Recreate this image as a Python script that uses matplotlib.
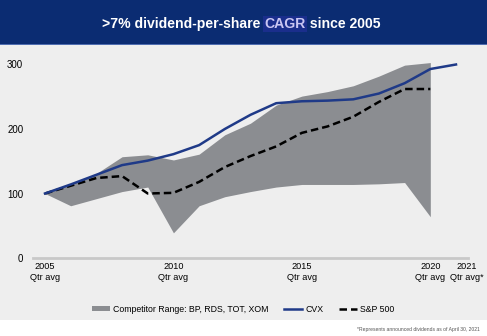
import numpy as np
import matplotlib.pyplot as plt
import matplotlib.transforms as mtransforms
from matplotlib.patches import Rectangle, Patch
from matplotlib.lines import Line2D

plt.rcParams['font.family'] = ['Liberation Sans', 'DejaVu Sans']

years = np.arange(2005, 2022)
cvx = [100, 114, 129, 144, 151, 161, 175, 200, 222, 240, 243, 244, 246, 255, 271, 293, 300]
sp500 = [100, 112, 124, 127, 100, 101, 118, 141, 158, 173, 194, 204, 219, 242, 262, 262]
comp_hi = [100, 115, 131, 157, 160, 152, 161, 191, 209, 237, 251, 258, 267, 282, 299, 303]
comp_lo = [100, 81, 92, 103, 110, 39, 81, 95, 103, 110, 114, 114, 114, 115, 117, 64]
tick_years = [2005, 2010, 2015, 2020, 2021]
tick_labels = ['2005\nQtr avg', '2010\nQtr avg', '2015\nQtr avg', '2020\nQtr avg', '2021\nQtr avg*']

W, H = 487, 336
fig = plt.figure(figsize=(W / 100, H / 100), dpi=100)
fig.patch.set_facecolor('white')

# background panels
fig.add_artist(Rectangle((0, 16 / H), 1, 1 - 16 / H - 44 / H, transform=fig.transFigure,
                         facecolor='#EEEEEE', edgecolor='none', zorder=0))
fig.add_artist(Rectangle((0, 1 - 44 / H), 1, 44 / H, transform=fig.transFigure,
                         facecolor='#0B2C72', edgecolor='none', zorder=0))
fig.add_artist(Rectangle((0, 1 - 45 / H), 1, 1.2 / H, transform=fig.transFigure,
                         facecolor='#4F6DB0', edgecolor='none', zorder=0))

x0 = 2005 - 12 / 25.69
x1 = 2021 + 12 / 25.69
ax = fig.add_axes([33 / W, 1 - 258 / H, 435 / W, (258 - 51.6) / H])
ax.set_facecolor('none')
ax.set_xlim(x0, x1)
ax.set_ylim(0, 320)

# title with highlighted CAGR
t1 = fig.text(102 / W, 1 - 24 / H, '>7% dividend-per-share ', color='white',
              fontsize=10.1, fontweight='bold', va='center', ha='left')
t2 = ax.annotate('CAGR', xy=(1, 0.5), xycoords=t1, va='center', ha='left',
                 color='#C9C6F2', fontsize=10.1, fontweight='bold', annotation_clip=False,
                 bbox=dict(boxstyle='square,pad=0.1', facecolor='#1A2E8C', edgecolor='none'))
ax.annotate(' since 2005', xy=(1, 0.5), xycoords=t2, va='center', ha='left',
            color='white', fontsize=10.1, fontweight='bold', annotation_clip=False)

ax.fill_between(years[:16], comp_lo, comp_hi, color='#8B8D91', linewidth=0, zorder=1)
ax.plot(years, cvx, color='#1F3A88', linewidth=1.8, zorder=3)
ax.plot(years[:16], sp500, color='black', linewidth=1.8, dashes=(3, 1.6), zorder=2)

for s in ['top', 'right', 'left']:
    ax.spines[s].set_visible(False)
ax.spines['bottom'].set_color('#C8C8C8')
ax.spines['bottom'].set_linewidth(2)

ax.set_yticks([0, 100, 200, 300])
ax.set_xticks(tick_years)
ax.set_xticklabels(tick_labels)
ax.tick_params(axis='both', length=0, colors='black')
ax.tick_params(axis='y', pad=7, labelsize=7)
ax.tick_params(axis='x', pad=3, labelsize=6.6)
for lbl in ax.get_xticklabels():
    lbl.set_linespacing(1.3)
# nudge the last label right so it clears the 2020 label
last = ax.get_xticklabels()[-1]
last.set_transform(last.get_transform() + mtransforms.ScaledTranslation(11 / 100, 0, fig.dpi_scale_trans))

handles = [Patch(facecolor='#8B8D91', edgecolor='none'),
           Line2D([], [], color='#1F3A88', linewidth=1.8),
           Line2D([], [], color='black', linewidth=1.8, dashes=(3, 1.6))]
labels = ['Competitor Range: BP, RDS, TOT, XOM', 'CVX', 'S&P 500']
fig.legend(handles, labels, loc='center', bbox_to_anchor=(243 / W, 1 - 309 / H), ncol=3,
           frameon=False, fontsize=6.3, handlelength=2.1, handleheight=0.45,
           handletextpad=0.3, columnspacing=1.8)

fig.text(480 / W, 1 - 329 / H, '*Represents announced dividends as of April 30, 2021',
         fontsize=3.6, color='#555555', ha='right', va='center')

fig.savefig('out.png', dpi=100, facecolor='white')
